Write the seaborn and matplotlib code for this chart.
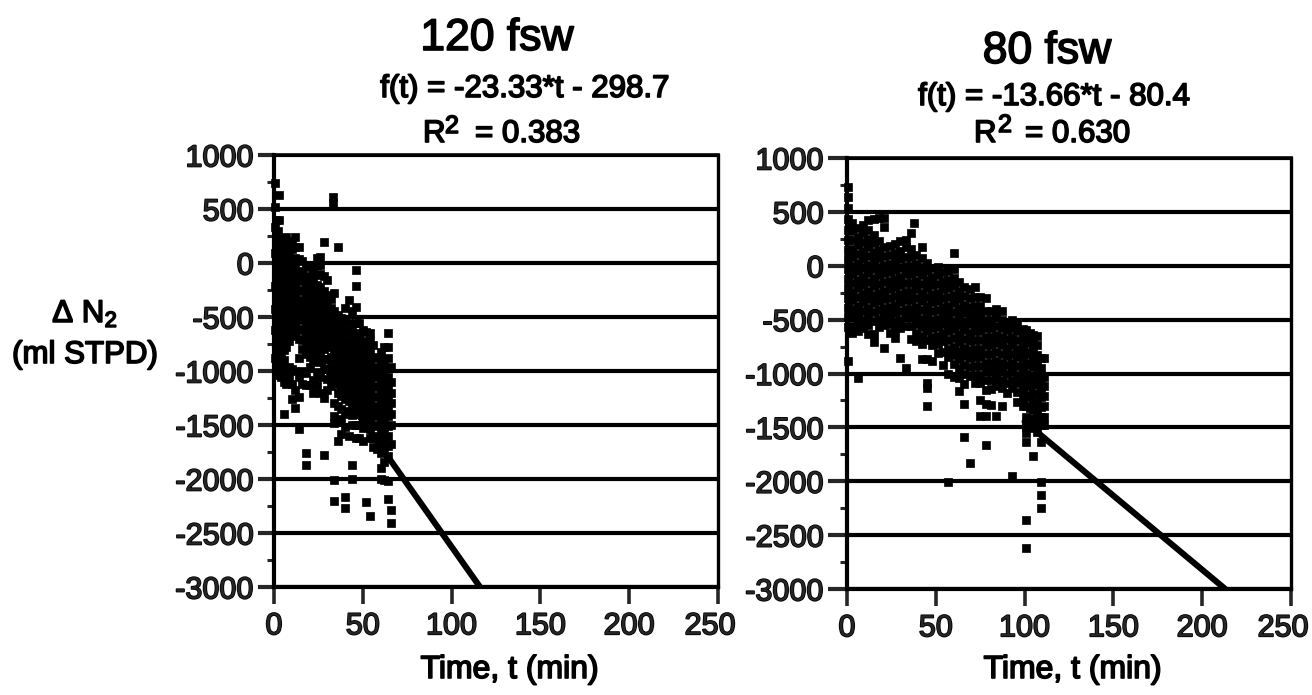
import matplotlib
matplotlib.use("Agg")
import matplotlib.pyplot as plt
import matplotlib.patheffects as pe
from matplotlib.ticker import MultipleLocator
from matplotlib.transforms import ScaledTranslation
import pandas as pd
import seaborn as sns

# ---- data -----------------------------------------------------------------
x_ticks = [0, 50, 100, 150, 200, 250]
y_ticks = [1000, 500, 0, -500, -1000, -1500, -2000, -2500, -3000]
x_tick_labels = ["0", "50", "100", "150", "200", "250"]
y_tick_labels = ["1000", "500", "0", "-500", "-1000", "-1500", "-2000", "-2500", "-3000"]

titles = ["120 fsw", "80 fsw"]
formulas = ["f(t) = -23.33*t - 298.7", "f(t) = -13.66*t - 80.4"]
r_values = ["= 0.383", "= 0.630"]

fit_t_120 = [22, 116]
fit_n2_120 = [-812, -3000]
fit_t_80 = [100, 213]
fit_n2_80 = [-1446, -3000]

t_120 = [0.5, 1, 2.5, 3, 4, 5.5, 7, 8.5, 10, 12, 14, 16, 18, 20, 22, 24, 26, 28, 30, 32, 33,
         34, 36, 38, 40, 42, 44, 46, 48, 50, 52, 54, 56, 58, 60, 62, 64, 66]
n2_120 = [
    [740, 520, 330, 90, -210, -430, -620, -880],
    [400, 260, 170, 80, -10, -100, -190, -280, -370, -460, -550, -640, -730, -800, -890, -980],
    [300, 210, 120, 30, -60, -150, -240, -330, -420, -510, -600, -690, -780, -870, -960, -1040],
    [630, 400],
    [230, 130, 40, -50, -140, -230, -320, -410, -500, -590, -680, -770, -860, -950, -1060],
    [180, 90, 0, -90, -180, -270, -360, -450, -540, -630, -720, -810, -900, -990, -1100, -1400],
    [240, 120, 30, -60, -150, -240, -330, -420, -510, -600, -690, -780, -1000, -1120],
    [170, 70, -20, -110, -200, -290, -380, -470, -560, -650, -720, -960, -1060],
    [200, 130, 30, -60, -150, -240, -330, -420, -510, -600, -680, -980, -1120, -1260],
    [240, 150, 50, -40, -130, -220, -310, -400, -490, -580, -670, -1000, -1180, -1340],
    [150, 40, -70, -160, -250, -340, -430, -520, -610, -700, -880, -1060, -1240, -1540],
    [20, -80, -170, -260, -350, -440, -530, -620, -710, -800, -1000, -1120],
    [-20, -120, -210, -300, -390, -480, -570, -660, -750, -840, -1020, -1130, -1760, -1870],
    [-40, -150, -240, -330, -420, -510, -600, -690, -780, -870, -960, -1130],
    [-80, -180, -270, -360, -450, -540, -630, -720, -810, -900, -1080, -1200],
    [50, -20, -110, -200, -290, -380, -470, -560, -650, -740, -830, -920, -1010, -1130],
    [60, -20, -100, -220, -310, -400, -490, -580, -670, -760, -850, -1060, -1200],
    [195, -120, -260, -350, -440, -530, -620, -710, -800, -890, -980, -1250, -1780],
    [-160, -300, -390, -480, -570, -660, -720, -890, -980, -1070, -1180],
    [-330, -420, -510, -600, -690, -780, -870, -960, -1050, -1140],
    [611, 555],
    [-280, -440, -530, -620, -710, -800, -890, -980, -1070, -1300, -1420, -1480, -2010, -2200],
    [148, -480, -570, -660, -750, -840, -930, -1020, -1110, -1200, -1320, -1440, -1650],
    [-510, -600, -690, -780, -870, -960, -1050, -1140, -1230, -1350, -1470, -1580],
    [-420, -540, -630, -720, -810, -900, -990, -1080, -1170, -1260, -1400, -1520, -2170, -2270],
    [-340, -560, -650, -740, -830, -920, -1010, -1100, -1190, -1280, -1370, -1600],
    [-440, -600, -690, -780, -870, -960, -1050, -1140, -1230, -1320, -1410, -1500, -1870, -2000],
    [-65, -213, -407, -560, -650, -740, -830, -920, -1010, -1100, -1190, -1280, -1370, -1500, -1620],
    [-560, -680, -770, -860, -950, -1040, -1130, -1220, -1310, -1400, -1500, -1620],
    [-620, -720, -810, -900, -990, -1080, -1170, -1260, -1350, -1440, -1530, -1650],
    [-640, -760, -850, -940, -1030, -1120, -1210, -1300, -1390, -1480, -2213],
    [-650, -720, -820, -910, -1000, -1090, -1180, -1270, -1360, -1450, -1540, -1620, -2343],
    [-760, -870, -960, -1050, -1140, -1230, -1320, -1410, -1500, -1620, -1700],
    [-880, -970, -1060, -1150, -1240, -1330, -1420, -1510, -1600, -1720],
    [-820, -930, -1020, -1110, -1200, -1290, -1380, -1470, -1560, -1650, -1760, -1900, -2000],
    [-780, -900, -990, -1080, -1170, -1260, -1350, -1440, -1530, -1620, -1700, -1840, -2010],
    [-650, -780, -880, -970, -1060, -1150, -1240, -1330, -1420, -1510, -1600, -1690, -1790, -2020, -2185],
    [-960, -1100, -1200, -1300, -1400, -1500, -1680, -2290, -2407],
]

t_80 = [0.5, 3, 6, 9, 12, 15, 18, 21, 24, 27, 30, 33, 36, 38, 39, 42, 45, 48, 51, 54, 57, 60,
        63, 66, 69, 72, 75, 78, 81, 84, 87, 90, 93, 96, 99, 101, 103, 105, 107, 109, 111]
n2_80 = [
    [730, 640, 540, 430, 330, 240, 150, 60, -30, -120, -210, -300, -390, -480, -570, -880],
    [400, 320, 240, 160, 80, 0, -80, -160, -240, -320, -400, -480, -560, -620],
    [350, 270, 190, 110, 30, -50, -130, -210, -290, -370, -450, -530, -610, -1040],
    [380, 300, 220, 140, 60, -20, -100, -180, -260, -340, -420, -500, -580],
    [420, 330, 250, 170, 90, 10, -70, -150, -230, -310, -390, -470, -550, -630],
    [430, 290, 210, 130, 50, -30, -110, -190, -270, -350, -430, -510, -630, -710],
    [440, 230, 150, 70, -10, -90, -170, -250, -330, -410, -490, -570],
    [440, 360, 170, 90, 10, -70, -150, -230, -310, -390, -470, -550, -760],
    [180, 100, 20, -60, -140, -220, -300, -380, -460, -540, -620],
    [200, 120, 40, -40, -120, -200, -280, -360, -440, -520, -600, -670],
    [230, 140, 60, -20, -100, -180, -260, -340, -420, -500, -580, -855],
    [240, 170, 80, 0, -80, -160, -240, -320, -400, -480, -560, -950],
    [300, 160, 80, 0, -80, -160, -240, -320, -400, -480, -560, -680],
    [400],
    [100, 20, -60, -140, -220, -300, -380, -460, -540, -620, -700],
    [170, 70, -10, -90, -170, -250, -330, -410, -490, -570, -650, -730, -870],
    [30, -50, -130, -210, -290, -370, -450, -530, -610, -690, -870, -1090, -1130, -1300],
    [-20, -100, -180, -260, -340, -420, -500, -580, -660, -740, -880],
    [-10, -90, -170, -250, -330, -410, -490, -570, -650, -730, -810],
    [-60, -140, -220, -300, -380, -460, -540, -620, -700, -800, -920],
    [-50, -130, -210, -290, -370, -450, -530, -610, -690, -770, -850, -1000, -2010],
    [120, -30, -110, -190, -270, -350, -430, -510, -590, -670, -750, -830, -910, -1030],
    [-150, -230, -310, -390, -470, -550, -630, -710, -790, -870, -950, -1040, -1160],
    [-200, -280, -360, -440, -520, -600, -680, -760, -840, -920, -1000, -1100, -1280, -1590],
    [-220, -300, -380, -460, -540, -620, -700, -780, -860, -940, -1020, -1830],
    [-200, -290, -370, -450, -530, -610, -690, -770, -850, -930, -1010, -1090],
    [-290, -370, -450, -530, -610, -690, -770, -850, -930, -1010, -1090, -1250, -1390],
    [-300, -420, -500, -580, -660, -740, -820, -900, -980, -1060, -1150, -1280, -1390, -1660],
    [-420, -500, -580, -660, -740, -820, -900, -980, -1060, -1140, -1290],
    [-400, -480, -560, -640, -720, -800, -880, -960, -1040, -1120, -1390],
    [-420, -500, -580, -660, -740, -820, -900, -980, -1060, -1130, -1300],
    [-520, -600, -680, -760, -840, -920, -1000, -1090, -1180],
    [-500, -580, -660, -740, -820, -900, -980, -1060, -1130, -1950],
    [-530, -610, -690, -770, -850, -930, -1010, -1090, -1170, -1260],
    [-590, -670, -750, -830, -910, -990, -1070, -1150, -1230, -1300],
    [-600, -700, -800, -900, -1000, -1100, -1200, -1300, -1400, -1500, -1550, -1640, -2360, -2620],
    [-620, -720, -820, -920, -1020, -1120, -1220, -1320, -1420, -1510],
    [-640, -700, -780, -860, -940, -1020, -1100, -1180, -1260, -1340, -1420, -1490, -1770],
    [-650, -740, -830, -920, -1010, -1100, -1190, -1280, -1370, -1460, -1540],
    [-860, -950, -1040, -1130, -1220, -1310, -1400, -1480, -1640, -2010, -2130, -2250],
    [-860, -1030, -1120, -1210, -1300, -1400, -1480],
]

# ---- figure ----------------------------------------------------------------
W, H = 1312, 695
sns.set_style("ticks")
plt.rcParams["font.family"] = ["Liberation Sans", "DejaVu Sans"]
plt.rcParams["mathtext.default"] = "regular"
plt.rcParams["axes.unicode_minus"] = False

fig = plt.figure(figsize=(W / 100, H / 100), dpi=100, facecolor="white")
STROKE = [pe.withStroke(linewidth=1.2, foreground="black")]


def px_text(x, y, s, size, ha="center"):
    fig.text(x / W, 1 - y / H, s, fontsize=size, ha=ha, va="baseline",
             color="black", path_effects=STROKE)


def long_table(times, columns):
    rows = [(t, v) for t, col in zip(times, columns) for v in col]
    return pd.DataFrame(rows, columns=["t", "n2"])


def panel(left, top, bottom, times, columns, fit_t, fit_n2, tick_px):
    ax = fig.add_axes([left / W, 1 - bottom / H, 444 / W, (bottom - top) / H])
    sns.scatterplot(data=long_table(times, columns), x="t", y="n2", ax=ax, marker="s",
                    s=30, color="black", edgecolor="black", linewidth=0.5,
                    clip_on=False, zorder=4, legend=False)
    sns.lineplot(x=fit_t, y=fit_n2, ax=ax, color="black", linewidth=4.4, zorder=5,
                 errorbar=None, solid_capstyle="round")
    ax.set_xlim(0, 250)
    ax.set_ylim(-3000, 1000)
    ax.set_xticks(x_ticks, x_tick_labels)
    ax.set_yticks(y_ticks, y_tick_labels)
    ax.yaxis.set_minor_locator(MultipleLocator(250))
    ax.grid(axis="y", which="major", color="black", linewidth=3.0, zorder=1)
    ax.set_axisbelow(True)
    ax.tick_params(axis="x", which="major", length=12.5, width=2.6, pad=5, labelsize=22)
    ax.tick_params(axis="y", which="major", length=tick_px * 0.72, width=3.0, pad=3, labelsize=22)
    ax.tick_params(axis="y", which="minor", length=5, width=2.2)
    for name in ("left", "right", "top", "bottom"):
        ax.spines[name].set_color("black")
    ax.spines["left"].set_linewidth(3.0)
    ax.spines["right"].set_linewidth(2.4)
    ax.spines["top"].set_linewidth(2.6)
    ax.spines["bottom"].set_linewidth(3.0)
    ax.set_xlabel("")
    ax.set_ylabel("")
    for lbl in ax.get_xticklabels() + ax.get_yticklabels():
        lbl.set_path_effects(STROKE)
    last = ax.get_xticklabels()[-1]
    last.set_transform(last.get_transform() + ScaledTranslation(-8 / 100, 0, fig.dpi_scale_trans))
    return ax


panel(274, 155, 587, t_120, n2_120, fit_t_120, fit_n2_120, 16)
panel(847, 158, 589, t_80, n2_80, fit_t_80, fit_n2_80, 19)

px_text(497, 50, titles[0], 32)
px_text(525, 97, formulas[0], 22.5)
px_text(423, 142, "R", 22.5, ha="left")
px_text(445, 133, "2", 18, ha="left")
px_text(475, 142, r_values[0], 22.5, ha="left")

px_text(1047, 63, titles[1], 32)
px_text(1054, 105, formulas[1], 22.5)
px_text(974, 142, "R", 22.5, ha="left")
px_text(998, 132, "2", 18, ha="left")
px_text(1025, 142, r_values[1], 22.5, ha="left")

px_text(85, 322, "\u0394 N$_2$", 22.5)
px_text(85, 363, "(ml STPD)", 22.5)
px_text(510, 678, "Time, t (min)", 23)
px_text(1073, 678, "Time, t (min)", 23)

fig.savefig("out.png", dpi=100, facecolor="white")
